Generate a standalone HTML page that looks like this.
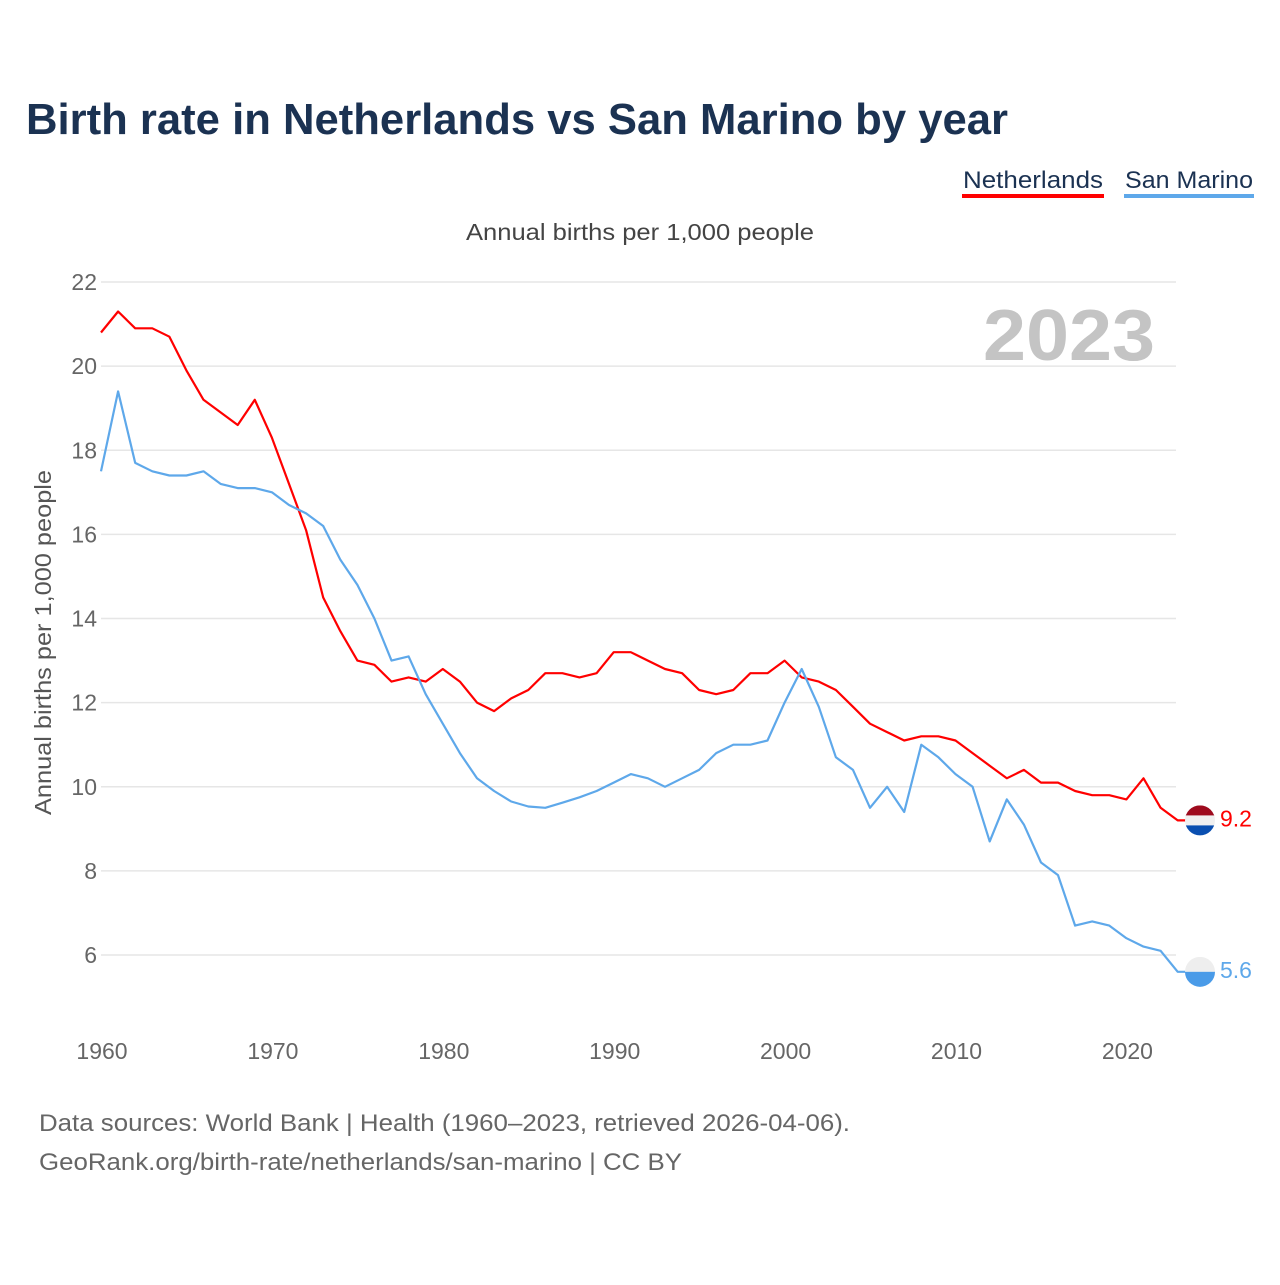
<!DOCTYPE html>
<html><head><meta charset="utf-8"><style>
body{margin:0;background:#fff;width:1280px;height:1280px;overflow:hidden;font-family:"Liberation Sans",sans-serif}
</style></head><body>
<svg id="chart" width="1280" height="1280" xmlns="http://www.w3.org/2000/svg" font-family="Liberation Sans, sans-serif">
<text x="26" y="134" font-size="44" font-weight="bold" fill="#1b3252" textLength="982" lengthAdjust="spacingAndGlyphs">Birth rate in Netherlands vs San Marino by year</text>
<g>
<text x="963" y="188" font-size="24" fill="#1b3252" textLength="140" lengthAdjust="spacingAndGlyphs">Netherlands</text>
<rect x="962" y="194" width="142" height="4" fill="#ff0000"/></g>
<g>
<text x="1125" y="188" font-size="24" fill="#1b3252" textLength="128" lengthAdjust="spacingAndGlyphs">San Marino</text>
<rect x="1124" y="194" width="130" height="4" fill="#5ea8ea"/></g>
<text x="466" y="240" font-size="23" fill="#444" textLength="348" lengthAdjust="spacingAndGlyphs">Annual births per 1,000 people</text>
<text x="1155" y="360" font-size="72" font-weight="bold" fill="#c4c4c4" text-anchor="end" textLength="172" lengthAdjust="spacingAndGlyphs">2023</text>
<text transform="translate(51,815) rotate(-90)" font-size="23" fill="#555" textLength="345" lengthAdjust="spacingAndGlyphs">Annual births per 1,000 people</text>
<g id="grid"></g><g id="yt"></g><g id="xt"></g><g id="lines"></g>
<text x="39" y="1131" font-size="24" fill="#666" textLength="811" lengthAdjust="spacingAndGlyphs">Data sources: World Bank | Health (1960–2023, retrieved 2026-04-06).</text>
<text x="39" y="1170" font-size="24" fill="#666" textLength="643" lengthAdjust="spacingAndGlyphs">GeoRank.org/birth-rate/netherlands/san-marino | CC BY</text>
</svg>
<script>
const years=[];for(let y=1960;y<=2023;y++)years.push(y);
const netherlands=[20.8,21.3,20.9,20.9,20.7,19.9,19.2,18.9,18.6,19.2,18.3,17.2,16.1,14.5,13.7,13.0,12.9,12.5,12.6,12.5,12.8,12.5,12.0,11.8,12.1,12.3,12.7,12.7,12.6,12.7,13.2,13.2,13.0,12.8,12.7,12.3,12.2,12.3,12.7,12.7,13.0,12.6,12.5,12.3,11.9,11.5,11.3,11.1,11.2,11.2,11.1,10.8,10.5,10.2,10.4,10.1,10.1,9.9,9.8,9.8,9.7,10.2,9.5,9.2];
const sanMarino=[17.5,19.4,17.7,17.5,17.4,17.4,17.5,17.2,17.1,17.1,17.0,16.7,16.5,16.2,15.4,14.8,14.0,13.0,13.1,12.2,11.5,10.8,10.2,9.9,9.65,9.53,9.5,9.62,9.75,9.9,10.1,10.3,10.2,10.0,10.2,10.4,10.8,11.0,11.0,11.1,12.0,12.8,11.9,10.7,10.4,9.5,10.0,9.4,11.0,10.7,10.3,10.0,8.7,9.7,9.1,8.2,7.9,6.7,6.8,6.7,6.4,6.2,6.1,5.6];
const yTicks=[6,8,10,12,14,16,18,20,22];
const xTicks=[1960,1970,1980,1990,2000,2010,2020];
const NS='http://www.w3.org/2000/svg';
const X=y=>101+(y-1960)*17.09, Y=v=>955-(v-6)*42.06;
function mk(t,a,p){const e=document.createElementNS(NS,t);for(const k in a)e.setAttribute(k,a[k]);document.getElementById(p).appendChild(e);return e;}
yTicks.forEach(v=>{
 const l=mk('line',{x1:101,x2:1176,y1:Y(v),y2:Y(v),stroke:'#e6e6e6','stroke-width':1.5},'grid');
 
 
 const t=mk('text',{x:97,y:Y(v)+8,'font-size':23,fill:'#666','text-anchor':'end'},'yt');t.textContent=v;
 
 
});
xTicks.forEach(v=>{
 const t=mk('text',{x:X(v)+1,y:1059,'font-size':23,fill:'#666','text-anchor':'middle'},'xt');t.textContent=v;
 
 
});
function series(vals,col,name,flag){
 let d=vals.map((v,i)=>(i?'L':'M')+X(years[i]).toFixed(1)+','+Y(v).toFixed(1)).join(' ');
 const last=vals[vals.length-1],ly=Y(last);
 d+=' L1200,'+ly.toFixed(1);
 const p=mk('path',{d:d,fill:'none',stroke:col,'stroke-width':2.2,'stroke-linejoin':'round'},'lines');
 
 
 const g=mk('g',{},'lines');
 
 
 const cx=1200,r=15;
 const cp=mk('clipPath',{id:'cp'+name},'lines');
 const cc=document.createElementNS(NS,'circle');cc.setAttribute('cx',cx);cc.setAttribute('cy',ly);cc.setAttribute('r',r);cp.appendChild(cc);
 flag.forEach((c,i)=>{const rr=document.createElementNS(NS,'rect');rr.setAttribute('x',cx-r);rr.setAttribute('y',ly-r+i*2*r/flag.length);rr.setAttribute('width',2*r);rr.setAttribute('height',2*r/flag.length+0.5);rr.setAttribute('fill',c);rr.setAttribute('clip-path','url(#cp'+name+')');g.appendChild(rr);});
 const t=mk('text',{x:1220,y:ly+6,'font-size':23,fill:col},'lines');t.textContent=last;
 
 
}
series(netherlands,'#ff0000','netherlands',['#9e0b1e','#f0f0f0','#0a4fb0']);
series(sanMarino,'#5ea8ea','san-marino',['#eeeeee','#4a9be8']);
</script>
</body></html>
